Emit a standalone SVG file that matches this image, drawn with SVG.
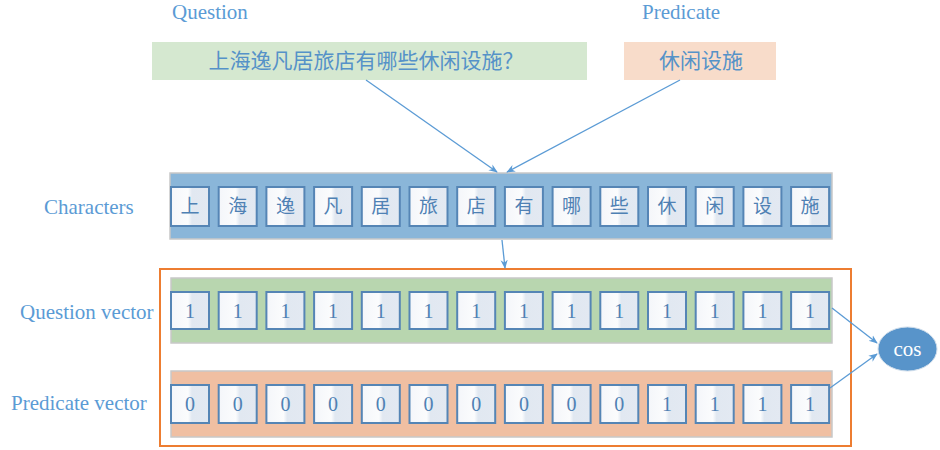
<svg xmlns="http://www.w3.org/2000/svg" width="940" height="450" viewBox="0 0 940 450">
<style>
.lbl{font-family:"Liberation Serif","Times New Roman",serif;font-size:21px;fill:#5B9BD5}
.cjk{font-family:"Noto Sans CJK SC","Noto Sans",sans-serif;font-size:21px;fill:#5592C8}
.cell{fill:url(#cg);stroke:#5585B5;stroke-width:2}
.ct{font-family:"Noto Sans CJK SC","Noto Sans",sans-serif;font-size:19px;fill:#4F81B4;text-anchor:middle}
.nt{font-family:"Liberation Serif","Times New Roman",serif;font-size:20px;fill:#4F81B4;text-anchor:middle}
.bar{stroke:#C8C8C8;stroke-width:1.5}
.con{stroke:#5B9BD5;stroke-width:1.3;fill:none;marker-end:url(#ah)}
</style>
<defs>
<linearGradient id="cg" x1="0" y1="0" x2="1" y2="0">
<stop offset="0" stop-color="#F4F6FA"/>
<stop offset="0.45" stop-color="#FBFCFD"/>
<stop offset="0.55" stop-color="#E1E8F1"/>
<stop offset="1" stop-color="#E3E9F2"/>
</linearGradient>
<marker id="ah" viewBox="0 0 10 10" refX="9" refY="5" markerWidth="9" markerHeight="9" orient="auto" markerUnits="userSpaceOnUse">
<path d="M0,1 L10,5 L0,9 L3,5 z" fill="#5B9BD5"/>
</marker>
</defs>

<g id="labels">
<text class="lbl" x="172" y="19">Question</text>
<text class="lbl" x="642" y="19">Predicate</text>
<text class="lbl" x="44" y="214">Characters</text>
<text class="lbl" x="20" y="319">Question vector</text>
<text class="lbl" x="11" y="410">Predicate vector</text>
</g>

<g id="question-box">
<rect x="152" y="42" width="435" height="38" fill="#D5E8D0"/>
<text class="cjk" x="366" y="68" text-anchor="middle">上海逸凡居旅店有哪些休闲设施？</text>
</g>
<g id="predicate-box">
<rect x="624" y="42" width="152" height="38" fill="#F8DCCA"/>
<text class="cjk" x="701" y="68" text-anchor="middle">休闲设施</text>
</g>

<g id="vector-frame">
<rect x="160" y="269" width="691" height="177" fill="none" stroke="#ED7D31" stroke-width="2"/>
</g>

<g id="characters">
<rect class="bar" x="170" y="173" width="662" height="66" fill="#8AB6D9"/>
<g id="c0"><rect class="cell" x="171" y="187" width="38" height="39"/><text class="ct" x="190" y="213">上</text></g>
<g id="c1"><rect class="cell" x="218.7" y="187" width="38" height="39"/><text class="ct" x="237.7" y="213">海</text></g>
<g id="c2"><rect class="cell" x="266.4" y="187" width="38" height="39"/><text class="ct" x="285.4" y="213">逸</text></g>
<g id="c3"><rect class="cell" x="314.1" y="187" width="38" height="39"/><text class="ct" x="333.1" y="213">凡</text></g>
<g id="c4"><rect class="cell" x="361.8" y="187" width="38" height="39"/><text class="ct" x="380.8" y="213">居</text></g>
<g id="c5"><rect class="cell" x="409.5" y="187" width="38" height="39"/><text class="ct" x="428.5" y="213">旅</text></g>
<g id="c6"><rect class="cell" x="457.2" y="187" width="38" height="39"/><text class="ct" x="476.2" y="213">店</text></g>
<g id="c7"><rect class="cell" x="504.9" y="187" width="38" height="39"/><text class="ct" x="523.9" y="213">有</text></g>
<g id="c8"><rect class="cell" x="552.6" y="187" width="38" height="39"/><text class="ct" x="571.6" y="213">哪</text></g>
<g id="c9"><rect class="cell" x="600.3" y="187" width="38" height="39"/><text class="ct" x="619.3" y="213">些</text></g>
<g id="c10"><rect class="cell" x="648" y="187" width="38" height="39"/><text class="ct" x="667" y="213">休</text></g>
<g id="c11"><rect class="cell" x="695.7" y="187" width="38" height="39"/><text class="ct" x="714.7" y="213">闲</text></g>
<g id="c12"><rect class="cell" x="743.4" y="187" width="38" height="39"/><text class="ct" x="762.4" y="213">设</text></g>
<g id="c13"><rect class="cell" x="791.1" y="187" width="38" height="39"/><text class="ct" x="810.1" y="213">施</text></g>
</g>

<g id="question-vector">
<rect class="bar" x="171" y="278" width="661" height="65" fill="#B8D6AF"/>
<g id="q0"><rect class="cell" x="171" y="292" width="38" height="37"/><text class="nt" x="190" y="318">1</text></g>
<g id="q1"><rect class="cell" x="218.7" y="292" width="38" height="37"/><text class="nt" x="237.7" y="318">1</text></g>
<g id="q2"><rect class="cell" x="266.4" y="292" width="38" height="37"/><text class="nt" x="285.4" y="318">1</text></g>
<g id="q3"><rect class="cell" x="314.1" y="292" width="38" height="37"/><text class="nt" x="333.1" y="318">1</text></g>
<g id="q4"><rect class="cell" x="361.8" y="292" width="38" height="37"/><text class="nt" x="380.8" y="318">1</text></g>
<g id="q5"><rect class="cell" x="409.5" y="292" width="38" height="37"/><text class="nt" x="428.5" y="318">1</text></g>
<g id="q6"><rect class="cell" x="457.2" y="292" width="38" height="37"/><text class="nt" x="476.2" y="318">1</text></g>
<g id="q7"><rect class="cell" x="504.9" y="292" width="38" height="37"/><text class="nt" x="523.9" y="318">1</text></g>
<g id="q8"><rect class="cell" x="552.6" y="292" width="38" height="37"/><text class="nt" x="571.6" y="318">1</text></g>
<g id="q9"><rect class="cell" x="600.3" y="292" width="38" height="37"/><text class="nt" x="619.3" y="318">1</text></g>
<g id="q10"><rect class="cell" x="648" y="292" width="38" height="37"/><text class="nt" x="667" y="318">1</text></g>
<g id="q11"><rect class="cell" x="695.7" y="292" width="38" height="37"/><text class="nt" x="714.7" y="318">1</text></g>
<g id="q12"><rect class="cell" x="743.4" y="292" width="38" height="37"/><text class="nt" x="762.4" y="318">1</text></g>
<g id="q13"><rect class="cell" x="791.1" y="292" width="38" height="37"/><text class="nt" x="810.1" y="318">1</text></g>
</g>

<g id="predicate-vector">
<rect class="bar" x="171" y="371" width="661" height="66" fill="#F0BFA2"/>
<g id="p0"><rect class="cell" x="171" y="385" width="38" height="38"/><text class="nt" x="190" y="411">0</text></g>
<g id="p1"><rect class="cell" x="218.7" y="385" width="38" height="38"/><text class="nt" x="237.7" y="411">0</text></g>
<g id="p2"><rect class="cell" x="266.4" y="385" width="38" height="38"/><text class="nt" x="285.4" y="411">0</text></g>
<g id="p3"><rect class="cell" x="314.1" y="385" width="38" height="38"/><text class="nt" x="333.1" y="411">0</text></g>
<g id="p4"><rect class="cell" x="361.8" y="385" width="38" height="38"/><text class="nt" x="380.8" y="411">0</text></g>
<g id="p5"><rect class="cell" x="409.5" y="385" width="38" height="38"/><text class="nt" x="428.5" y="411">0</text></g>
<g id="p6"><rect class="cell" x="457.2" y="385" width="38" height="38"/><text class="nt" x="476.2" y="411">0</text></g>
<g id="p7"><rect class="cell" x="504.9" y="385" width="38" height="38"/><text class="nt" x="523.9" y="411">0</text></g>
<g id="p8"><rect class="cell" x="552.6" y="385" width="38" height="38"/><text class="nt" x="571.6" y="411">0</text></g>
<g id="p9"><rect class="cell" x="600.3" y="385" width="38" height="38"/><text class="nt" x="619.3" y="411">0</text></g>
<g id="p10"><rect class="cell" x="648" y="385" width="38" height="38"/><text class="nt" x="667" y="411">1</text></g>
<g id="p11"><rect class="cell" x="695.7" y="385" width="38" height="38"/><text class="nt" x="714.7" y="411">1</text></g>
<g id="p12"><rect class="cell" x="743.4" y="385" width="38" height="38"/><text class="nt" x="762.4" y="411">1</text></g>
<g id="p13"><rect class="cell" x="791.1" y="385" width="38" height="38"/><text class="nt" x="810.1" y="411">1</text></g>
</g>

<g id="cos">
<ellipse cx="907.5" cy="349" rx="29.5" ry="22" fill="#5894CA" stroke="#CFDDEB" stroke-width="1"/>
<text x="907.5" y="356" text-anchor="middle" font-family="Liberation Serif, Times New Roman, serif" font-size="21" fill="#FFFFFF">cos</text>
</g>

<g id="connectors">
<line class="con" x1="366" y1="80" x2="497" y2="172"/>
<line class="con" x1="680" y1="80" x2="507" y2="172"/>
<line class="con" x1="502" y1="240" x2="505" y2="268"/>
<line class="con" x1="832" y1="308" x2="877" y2="343"/>
<line class="con" x1="830" y1="388" x2="877" y2="354"/>
</g>
</svg>
